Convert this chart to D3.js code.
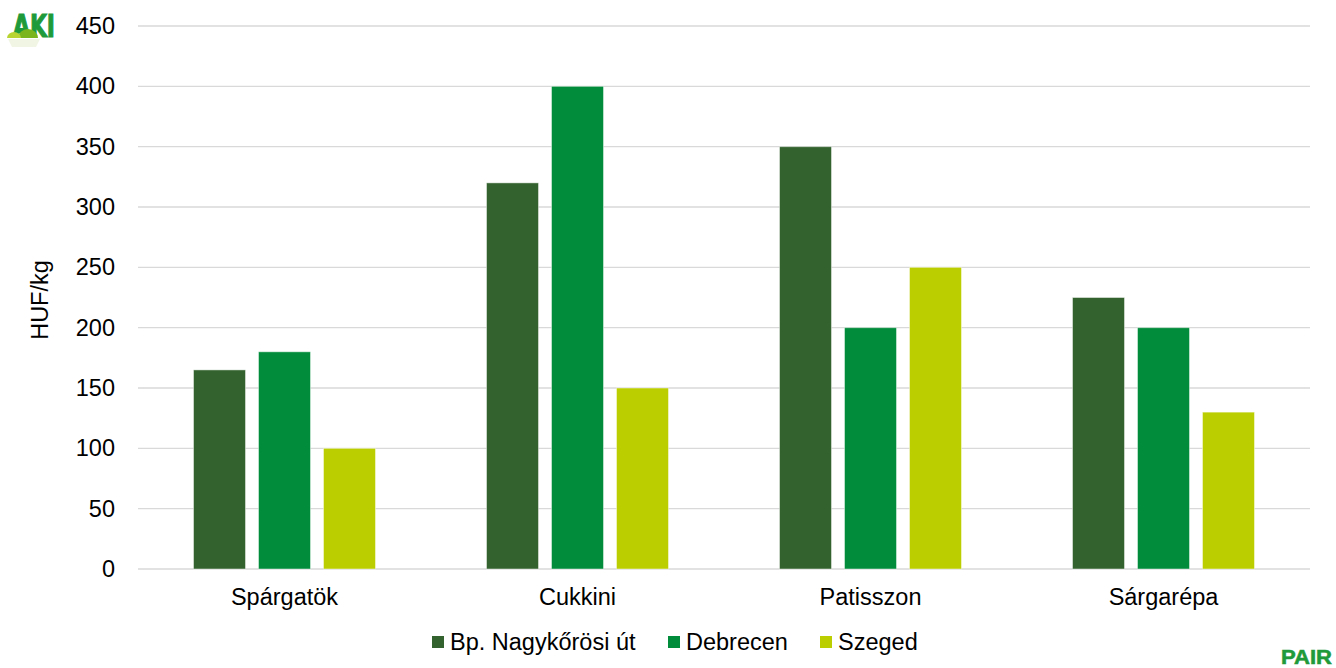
<!DOCTYPE html>
<html><head><meta charset="utf-8">
<script src="https://cdn.jsdelivr.net/npm/d3@7"></script>
<style>body{margin:0;background:#fff}svg{display:block;font-family:"Liberation Sans",Arial,sans-serif}</style>
</head><body><svg id="c" width="1336" height="668"></svg>
<script>
const categories = ["Spárgatök","Cukkini","Patisszon","Sárgarépa"];
const seriesNames = ["Bp. Nagykőrösi út","Debrecen","Szeged"];
const bpValues = [165,320,350,225];
const debrecenValues = [180,400,200,200];
const szegedValues = [100,150,250,130];
const yTicks = [0,50,100,150,200,250,300,350,400,450];
const colors = ["#33622e","#008c3a","#bbce00"];
const yLabel = "HUF/kg";

const FS = 23.5;
const seriesValues = [bpValues, debrecenValues, szegedValues];
const svg = d3.select("#c");
const L = 138, R = 1310, T = 26, B = 569;
const x0 = d3.scaleBand().domain(categories).range([L,R]).padding(0);
const x1 = d3.scaleBand().domain(seriesNames).range([0,x0.bandwidth()]).paddingInner(0.2).paddingOuter(0.854);
const y = d3.scaleLinear().domain([0,450]).range([B,T]);

// grid
svg.append("g").selectAll("line").data(yTicks).join("line")
  .attr("x1",L).attr("x2",R).attr("y1",d=>y(d)).attr("y2",d=>y(d))
  .attr("stroke","#d9d9d9").attr("stroke-width",1.3);

// y axis labels
const ya = svg.append("g").attr("transform",`translate(${L},0)`)
  .call(d3.axisLeft(y).tickValues(yTicks).tickSize(0).tickPadding(23));
ya.select(".domain").remove();
ya.selectAll("text").attr("font-size",FS).attr("fill","#000").attr("font-family","Liberation Sans, Arial, sans-serif");

// bars
const groups = svg.append("g").selectAll("g").data(categories).join("g")
  .attr("transform",d=>`translate(${x0(d)},0)`);
groups.selectAll("rect").data((c,i)=>seriesNames.map((s,j)=>({s,v:seriesValues[j][i],j}))).join("rect")
  .attr("x",d=>x1(d.s)).attr("width",x1.bandwidth())
  .attr("y",d=>y(d.v)).attr("height",d=>B-y(d.v))
  .attr("fill",d=>colors[d.j]).attr("stroke","rgba(255,255,255,0.45)").attr("stroke-width",1);

// x axis labels
const xa = svg.append("g").attr("transform",`translate(0,${B})`)
  .call(d3.axisBottom(x0).tickSize(0).tickPadding(19));
xa.select(".domain").remove();
xa.selectAll("text").attr("font-size",FS).attr("fill","#000").attr("font-family","Liberation Sans, Arial, sans-serif");

// y label
svg.append("text").attr("transform","translate(48,300) rotate(-90)")
  .attr("text-anchor","middle").attr("font-size",FS).attr("fill","#000").text(yLabel);

// legend
const legX = [432, 668, 820];
const leg = svg.append("g").selectAll("g").data(seriesNames).join("g")
  .attr("transform",(d,i)=>`translate(${legX[i]},0)`);
leg.append("rect").attr("x",0).attr("y",636).attr("width",12).attr("height",12).attr("fill",(d,i)=>colors[i]);
leg.append("text").attr("x",18).attr("y",650).attr("font-size",FS).attr("fill","#000").text(d=>d);

// AKI logo
const logo = svg.append("g");
logo.append("text").attr("x",13).attr("y",37).attr("font-size",32).attr("font-weight","bold")
  .attr("font-family","DejaVu Sans, sans-serif")
  .attr("fill","#1f9a3a").attr("stroke","#1f9a3a").attr("stroke-width",1.2)
  .attr("textLength",42).attr("lengthAdjust","spacingAndGlyphs").text("AKI");
logo.append("path").attr("d","M18,38 A10,9 0 0 1 38,38 Z").attr("fill","#7ab51d");
logo.append("path").attr("d","M7,38 A7,6 0 0 1 21,38 Z").attr("fill","#b8d433");
logo.append("path").attr("d","M8,39 L40,39 L36,47 L12,47 Z").attr("fill","#e6f0d0").attr("opacity",0.6);
// PAIR logo
svg.append("text").attr("x",1332).attr("y",664).attr("text-anchor","end").attr("font-size",21)
  .attr("font-weight","bold").attr("fill","#1f9a3a").attr("stroke","#1f9a3a").attr("stroke-width",0.6)
  .attr("textLength",51).attr("lengthAdjust","spacingAndGlyphs").text("PAIR");
</script></body></html>
